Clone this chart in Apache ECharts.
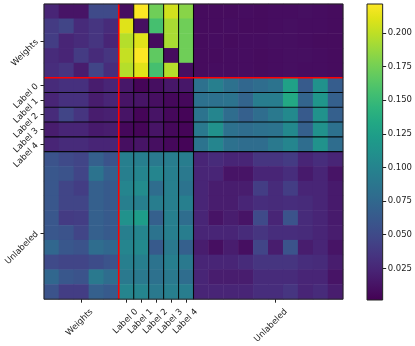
<!DOCTYPE html>
<html>
<head>
<meta charset="utf-8">
<script src="https://cdn.jsdelivr.net/npm/echarts@6/dist/echarts.min.js"></script>
<style>
html,body{margin:0;padding:0;background:#fff;}
#chart{width:415px;height:346px;}
</style>
</head>
<body>
<div id="chart"></div>
<script>
// ---- data ----
const groupNames = ['Weights', 'Label 0', 'Label 1', 'Label 2', 'Label 3', 'Label 4', 'Unlabeled'];
const groupSizes = [5, 1, 1, 1, 1, 1, 10];
const colorbarTicks = [0.025, 0.050, 0.075, 0.100, 0.125, 0.150, 0.175, 0.200];
const valueMin = 0.0015;
const valueMax = 0.2215;

const weightsRows = [
  [0.024,0.013,0.013,0.050,0.050, 0.010,0.221,0.173,0.206,0.182, 0.008,0.008,0.008,0.009,0.008,0.009,0.009,0.010,0.009,0.008],
  [0.039,0.046,0.028,0.035,0.028, 0.211,0.010,0.156,0.193,0.173, 0.008,0.008,0.009,0.008,0.008,0.009,0.010,0.009,0.009,0.008],
  [0.041,0.024,0.028,0.035,0.024, 0.197,0.211,0.008,0.193,0.173, 0.008,0.009,0.008,0.009,0.009,0.010,0.010,0.009,0.008,0.008],
  [0.028,0.024,0.039,0.028,0.035, 0.202,0.221,0.167,0.008,0.173, 0.008,0.008,0.009,0.009,0.008,0.009,0.010,0.010,0.009,0.008],
  [0.030,0.035,0.019,0.046,0.030, 0.197,0.211,0.156,0.197,0.010, 0.008,0.009,0.009,0.009,0.008,0.009,0.010,0.009,0.009,0.008]
];
const labelRows = [
  [0.028,0.032,0.032,0.019,0.024, 0.015,0.004,0.010,0.015,0.015, 0.083,0.096,0.083,0.074,0.079,0.085,0.127,0.064,0.112,0.066],
  [0.024,0.032,0.032,0.019,0.024, 0.013,0.013,0.010,0.006,0.006, 0.083,0.083,0.085,0.072,0.094,0.094,0.134,0.072,0.116,0.068],
  [0.028,0.046,0.035,0.019,0.021, 0.013,0.004,0.013,0.006,0.004, 0.085,0.101,0.079,0.068,0.079,0.090,0.105,0.063,0.112,0.068],
  [0.019,0.024,0.024,0.017,0.019, 0.006,0.004,0.013,0.006,0.004, 0.090,0.112,0.083,0.079,0.083,0.085,0.105,0.068,0.112,0.083],
  [0.024,0.028,0.028,0.024,0.024, 0.010,0.013,0.010,0.006,0.004, 0.085,0.101,0.083,0.079,0.079,0.090,0.101,0.079,0.112,0.079]
];
const unlabeledRows = [
  [0.057,0.050,0.046,0.068,0.057, 0.096,0.096,0.090,0.094,0.094, 0.024,0.028,0.024,0.024,0.035,0.035,0.039,0.024,0.030,0.024],
  [0.061,0.057,0.046,0.085,0.068, 0.096,0.101,0.101,0.096,0.090, 0.024,0.024,0.013,0.013,0.024,0.024,0.030,0.017,0.024,0.013],
  [0.061,0.046,0.041,0.068,0.063, 0.101,0.107,0.079,0.096,0.085, 0.024,0.019,0.019,0.019,0.041,0.028,0.041,0.024,0.024,0.017],
  [0.061,0.046,0.046,0.068,0.063, 0.096,0.096,0.094,0.096,0.096, 0.024,0.019,0.019,0.024,0.030,0.028,0.030,0.028,0.024,0.017],
  [0.061,0.039,0.041,0.068,0.063, 0.112,0.123,0.068,0.096,0.079, 0.024,0.013,0.019,0.013,0.050,0.024,0.057,0.028,0.024,0.017],
  [0.061,0.057,0.046,0.068,0.063, 0.096,0.101,0.085,0.096,0.094, 0.024,0.024,0.024,0.028,0.035,0.030,0.030,0.028,0.024,0.019],
  [0.074,0.061,0.057,0.079,0.074, 0.101,0.105,0.063,0.090,0.068, 0.019,0.010,0.019,0.010,0.046,0.019,0.057,0.019,0.024,0.013],
  [0.050,0.046,0.046,0.052,0.057, 0.096,0.096,0.085,0.096,0.090, 0.024,0.024,0.024,0.028,0.035,0.035,0.035,0.030,0.028,0.019],
  [0.074,0.061,0.057,0.090,0.079, 0.090,0.090,0.083,0.090,0.079, 0.024,0.019,0.019,0.019,0.028,0.028,0.028,0.024,0.024,0.013],
  [0.057,0.041,0.041,0.068,0.063, 0.101,0.101,0.090,0.096,0.094, 0.024,0.024,0.024,0.024,0.030,0.030,0.035,0.024,0.028,0.019]
];

const viridis = ['#440154','#471365','#482475','#463480','#414487','#3b528b','#355f8d','#2f6c8e','#2a788e','#25848e',
  '#21918c','#1e9c89','#22a884','#2fb47c','#44bf70','#5ec962','#7ad151','#9bd93c','#bddf26','#dfe318','#fde725'];

// ---- build ----
const categories = [];
const tickIdx = new Set();
const groupStarts = [];
groupNames.forEach((g, gi) => {
  groupStarts.push(categories.length);
  tickIdx.add(categories.length + Math.floor(groupSizes[gi] / 2));
  for (let k = 0; k < groupSizes[gi]; k++) categories.push(g + '#' + k);
});
const allRows = weightsRows.concat(labelRows, unlabeledRows);
const heatData = [];
allRows.forEach((row, r) => row.forEach((v, c) => heatData.push([c, r, v])));

// separators: red after first group, black around each label group
const lineData = [];
for (let gi = 2; gi < groupNames.length; gi++) {
  lineData.push([groupStarts[gi], groupStarts[gi], 0, 0]);
  lineData.push([groupStarts[gi], groupStarts[gi], 1, 0]);
}
lineData.push([groupStarts[1], groupStarts[1], 0, 1]);
lineData.push([groupStarts[1], groupStarts[1], 1, 1]);

const showTick = (i) => tickIdx.has(i);
const FONT = 'DejaVu Sans';
const TXT = '#222';

const chart = echarts.init(document.getElementById('chart'), null, {renderer: 'canvas'});
chart.setOption({
  animation: false,
  backgroundColor: '#fff',
  textStyle: {fontFamily: FONT},
  grid: [
    {left: 44, top: 4, width: 299, height: 296, show: true, backgroundColor: 'transparent', borderColor: '#222', borderWidth: 1, z: 10},
    {left: 367, top: 4, width: 16, height: 296, show: true, backgroundColor: 'transparent', borderColor: '#222', borderWidth: 1, z: 10}
  ],
  xAxis: [
    {
      type: 'category', gridIndex: 0, data: categories, position: 'bottom',
      axisLine: {show: false},
      axisTick: {show: true, alignWithLabel: true, interval: showTick, length: 3.5, lineStyle: {color: TXT, width: 1}},
      axisLabel: {
        interval: showTick, rotate: 45, margin: 1, verticalAlign: 'top', padding: [10, 0, 0, 0],
        fontSize: 8.5, color: TXT, fontFamily: FONT,
        formatter: (v) => v.split('#')[0]
      },
      splitLine: {show: false}
    },
    {type: 'category', gridIndex: 1, data: ['cb'], show: false}
  ],
  yAxis: [
    {
      type: 'category', gridIndex: 0, data: categories, inverse: true, position: 'left',
      axisLine: {show: false},
      axisTick: {show: true, alignWithLabel: true, interval: showTick, length: 3.5, lineStyle: {color: TXT, width: 1}},
      axisLabel: {
        interval: showTick, rotate: 45, margin: 7,
        fontSize: 8.5, color: TXT, fontFamily: FONT,
        formatter: (v) => v.split('#')[0]
      },
      splitLine: {show: false}
    },
    {
      type: 'value', gridIndex: 1, position: 'right', min: valueMin, max: valueMax,
      axisLine: {show: false},
      axisTick: {show: true, customValues: colorbarTicks, length: 3.5, lineStyle: {color: TXT, width: 1}},
      axisLabel: {show: true, customValues: colorbarTicks, margin: 5, fontSize: 8.5, color: TXT, fontFamily: FONT,
        formatter: (v) => v.toFixed(3)},
      splitLine: {show: false}
    }
  ],
  visualMap: {
    type: 'continuous', show: false, min: valueMin, max: valueMax, dimension: 2, seriesIndex: 0,
    inRange: {color: viridis}
  },
  series: [
    {
      type: 'heatmap', xAxisIndex: 0, yAxisIndex: 0, data: heatData,
      itemStyle: {borderWidth: 0}, emphasis: {disabled: true}
    },
    {
      type: 'custom', xAxisIndex: 0, yAxisIndex: 0, z: 5, silent: true,
      dimensions: ['x', 'y', 'o', 'r'], encode: {x: 0, y: 1},
      data: lineData,
      renderItem: (params, api) => {
        const b = api.value(0);
        const p = api.coord([b, b]);
        const s = api.size([1, 1]);
        const cs = params.coordSys;
        const red = api.value(3) === 1;
        const style = {stroke: red ? '#ff0000' : 'rgba(0,0,0,0.9)', lineWidth: red ? 1.6 : 1.1};
        let shape;
        if (api.value(2) === 0) {
          const x = p[0] - s[0] / 2;
          shape = {x1: x, y1: cs.y, x2: x, y2: cs.y + cs.height};
        } else {
          const y = p[1] - s[1] / 2;
          shape = {x1: cs.x, y1: y, x2: cs.x + cs.width, y2: y};
        }
        return {type: 'line', shape: shape, style: style, z2: red ? 10 : 5};
      }
    },
    {
      type: 'bar', xAxisIndex: 1, yAxisIndex: 1, stack: 'cb', barWidth: '100%', silent: true,
      data: [valueMin], itemStyle: {color: 'rgba(0,0,0,0)'}
    },
    {
      type: 'bar', xAxisIndex: 1, yAxisIndex: 1, stack: 'cb', barWidth: '100%', silent: true,
      data: [valueMax - valueMin],
      itemStyle: {
        color: {type: 'linear', x: 0, y: 1, x2: 0, y2: 0,
          colorStops: viridis.map((c, i) => ({offset: i / (viridis.length - 1), color: c}))}
      }
    }
  ]
});
</script>
</body>
</html>
